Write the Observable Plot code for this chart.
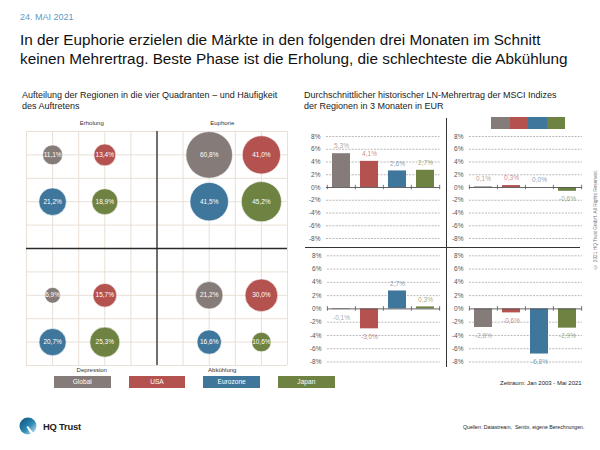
<!DOCTYPE html>
<html>
<head>
<meta charset="utf-8">
<script src="https://cdn.jsdelivr.net/npm/d3@7"></script>
<script src="https://cdn.jsdelivr.net/npm/@observablehq/plot@0.6"></script>
<style>
  html, body { margin: 0; padding: 0; background: #fff; }
  body { font-family: "Liberation Sans", Arial, Helvetica, sans-serif; }
  #page { position: relative; width: 600px; height: 450px; overflow: hidden; background: #fff; }
  .abs { position: absolute; }
  .date { font-size: 9px; color: #5d9bc8; }
  .title { font-size: 15.3px; line-height: 19px; color: #111; width: 580px; }
  .sub { font-size: 9px; line-height: 11px; color: #222; white-space: nowrap; }
  .legend-box { height: 12px; color: #fff; font-size: 6.6px; line-height: 12px; text-align: center; }
  .swatch { height: 11.6px; }
  .small { font-size: 6px; color: #222; white-space: nowrap; }
  .copy { font-size: 4.8px; color: #777; writing-mode: vertical-rl; transform: rotate(180deg); white-space: nowrap; }
  .brand { font-size: 9.4px; font-weight: bold; color: #1d1d1b; letter-spacing: -0.2px; }
</style>
</head>
<body>
<div id="page"></div>
<script>
// ---------- data ----------
const regions = ["Global", "USA", "Eurozone", "Japan"];
const regionColors = ["#857b78", "#b4524f", "#3f769b", "#6e8241"];
const phases = ["Erholung", "Euphorie", "Depression", "Abkühlung"];

// frequency of occurrence (%) per phase, by region
const freqErholung   = [11.1, 13.4, 21.2, 18.9];
const freqEuphorie   = [60.8, 41.0, 41.5, 45.2];
const freqDepression = [6.9, 15.7, 20.7, 25.3];
const freqAbkuehlung = [21.2, 30.0, 16.6, 10.6];

// average LN excess return over 3 months (%) per phase, by region
const retErholung   = [5.3, 4.1, 2.6, 2.7];
const retEuphorie   = [0.1, 0.3, 0.0, -0.6];
const retDepression = [-0.1, -3.0, 2.7, 0.3];
const retAbkuehlung = [-2.8, -0.6, -6.8, -2.9];

const returnTicks = [-8, -6, -4, -2, 0, 2, 4, 6, 8];

const dateText = "24. MAI 2021";
const titleText = "In der Euphorie erzielen die Märkte in den folgenden drei Monaten im Schnitt<br>keinen Mehrertrag. Beste Phase ist die Erholung, die schlechteste die Abkühlung";
const leftSubtitle = "Aufteilung der Regionen in die vier Quadranten – und Häufigkeit<br>des Auftretens";
const rightSubtitle = "Durchschnittlicher historischer LN-Mehrertrag der MSCI Indizes<br>der Regionen in 3 Monaten in EUR";
const periodText = "Zeitraum: Jan 2003 - Mai 2021";
const sourceText = "Quellen: Datastream,&nbsp; Sentix, eigene Berechnungen.";
const copyrightText = "© 2021 HQ Trust GmbH. All Rights Reserved.";

// ---------- helpers ----------
const FONT = '"Liberation Sans", Arial, Helvetica, sans-serif';
const fmtPct = v => v.toFixed(1).replace(".", ",") + "%";
const page = document.getElementById("page");
function place(el, left, top) {
  el.style.position = "absolute";
  el.style.left = left + "px";
  el.style.top = top + "px";
  page.appendChild(el);
  return el;
}
function html(cls, content, left, top, extra = {}) {
  const d = document.createElement("div");
  d.className = "abs " + cls;
  d.innerHTML = content;
  Object.assign(d.style, extra);
  return place(d, left, top);
}

// ---------- header texts ----------
html("date", dateText, 20, 12);
html("title", titleText, 20, 30);
html("sub", leftSubtitle, 22, 90);
html("sub", rightSubtitle, 304, 90);

// ---------- bubble chart ----------
const freqByPhase = [freqErholung, freqEuphorie, freqDepression, freqAbkuehlung];
const bubbles = phases.flatMap((phase, p) => regions.map((region, r) => ({
  phase, region, value: freqByPhase[p][r],
  gx: (p % 2) * 6 + 1 + (r % 2) * 2,
  gy: Math.floor(p / 2) * 6 + 1 + Math.floor(r / 2) * 2
})));
const phaseLabels = phases.map((phase, p) => ({
  phase, lx: (p % 2) * 5 + 2.5, ly: p < 2 ? -0.37 : 10.2
}));

const bubblePlot = Plot.plot({
  width: 300, height: 290,
  marginLeft: 26, marginRight: 13, marginTop: 21, marginBottom: 35,
  x: {domain: [0, 10], axis: null},
  y: {domain: [0, 10], reverse: true, axis: null},
  r: {domain: [0, 60.8], range: [0, 23.3]},
  color: {domain: regions, range: regionColors},
  style: {background: "transparent", overflow: "visible", fontFamily: FONT},
  marks: [
    Plot.ruleX(d3.range(11), {stroke: "#e6dcd2", strokeWidth: 0.9}),
    Plot.ruleY(d3.range(11), {stroke: "#e6dcd2", strokeWidth: 0.9}),
    Plot.ruleX([5], {stroke: "#2a2a2a", strokeWidth: 1.3}),
    Plot.ruleY([5], {stroke: "#2a2a2a", strokeWidth: 1.3}),
    Plot.dot(bubbles, {x: "gx", y: "gy", r: "value", fill: "region", fillOpacity: 1, stroke: "#ffffff", strokeWidth: 0.6}),
    Plot.text(bubbles, {x: "gx", y: "gy", text: d => fmtPct(d.value), fill: "white", fontSize: 6.5}),
    Plot.text(phaseLabels, {x: "lx", y: "ly", text: "phase", fill: "#333", fontSize: 6})
  ]
});
place(bubblePlot, 0, 110);

// legend below bubble chart
regions.forEach((name, i) => {
  html("legend-box", name, 54 + i * 74.7, 375.5, {width: "56.5px", background: regionColors[i]});
});

// ---------- bar charts ----------
function returnPanel(values, {width, height, marginLeft, marginRight, marginTop, marginBottom}) {
  const data = regions.map((region, i) => ({region, value: values[i]}));
  const step = (width - marginLeft - marginRight) / regions.length;
  const tick = {y1: -0.35, y2: 0.35, stroke: "#555", strokeWidth: 0.8};
  return Plot.plot({
    width, height, marginLeft, marginRight, marginTop, marginBottom,
    x: {domain: regions, axis: null, paddingInner: 0.34, paddingOuter: 0.17},
    y: {domain: [-8, 8], ticks: returnTicks, tickFormat: d => d + "%", tickSize: 0, tickPadding: 6, label: null},
    color: {domain: regions, range: regionColors},
    style: {background: "transparent", overflow: "visible", fontFamily: FONT, fontSize: "6.5px", color: "#555"},
    marks: [
      Plot.ruleY(returnTicks.filter(t => t !== 0), {stroke: "#8c8c8c", strokeWidth: 0.6, strokeDasharray: "2,1.2"}),
      Plot.barY(data, {x: "region", y: "value", fill: "region"}),
      Plot.ruleY([0], {stroke: "#555", strokeWidth: 0.9}),
      Plot.ruleX(regions, {x: d => d, dx: -step / 2, ...tick}),
      Plot.ruleX(regions.slice(-1), {x: d => d, dx: step / 2, ...tick}),
      Plot.text(data.filter(d => d.value >= 0), {x: "region", y: "value", text: d => fmtPct(d.value), fill: "region", fillOpacity: 0.7, dy: -7.5, fontSize: 6.5}),
      Plot.text(data.filter(d => d.value < 0), {x: "region", y: "value", text: d => fmtPct(d.value), fill: "region", fillOpacity: 0.7, dy: 8, fontSize: 6.5})
    ]
  });
}

const topDims = {height: 129, marginTop: 18, marginBottom: 9};
const botDims = {height: 120, marginTop: 6.3, marginBottom: 7.5};
place(returnPanel(retErholung,   {width: 150, marginLeft: 31, marginRight: 5.5, ...topDims}), 295, 118);
place(returnPanel(retEuphorie,   {width: 140, marginLeft: 22, marginRight: 5, ...topDims}), 447, 118);
place(returnPanel(retDepression, {width: 150, marginLeft: 32, marginRight: 5, ...botDims}), 295, 249);
place(returnPanel(retAbkuehlung, {width: 140, marginLeft: 22, marginRight: 5, ...botDims}), 447, 249);

// dividers between the bar panels
html("", "", 446, 118, {width: "1.2px", height: "249px", background: "#333"});
html("", "", 305, 247, {width: "275px", height: "1.2px", background: "#333"});

// swatch legend top right
regions.forEach((name, i) => {
  html("swatch", "", 491 + i * 18.6, 117, {width: "18.7px", background: regionColors[i]});
});

html("small", periodText, 500, 380);

// ---------- footer ----------
const logo = document.createElementNS("http://www.w3.org/2000/svg", "svg");
logo.setAttribute("width", 20); logo.setAttribute("height", 20);
logo.innerHTML = `
  <defs><linearGradient id="lg" x1="0" y1="0" x2="1" y2="1">
    <stop offset="0" stop-color="#0b4f79"/><stop offset="0.55" stop-color="#2d89b5"/><stop offset="1" stop-color="#e8f2f8"/>
  </linearGradient></defs>
  <circle cx="9" cy="9" r="8.5" fill="url(#lg)"/>
  <path d="M9 9 L16 18 L13 19 L7.5 10 Z" fill="#ffffff"/>`;
place(logo, 19, 417);
html("brand", "HQ Trust", 43, 421);
html("small", sourceText, 463, 424, {fontSize: "5.2px"});
html("copy", copyrightText, 593, 170);
</script>
</body>
</html>
